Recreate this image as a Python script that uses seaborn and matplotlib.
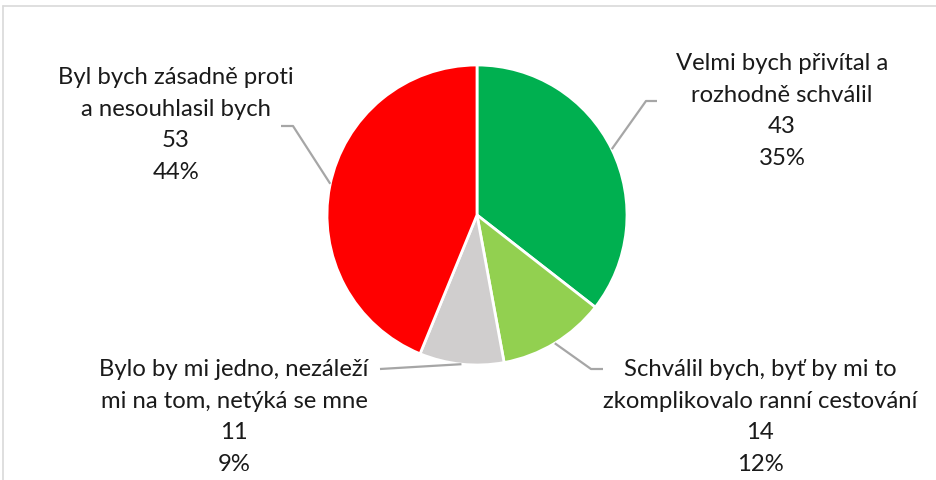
import matplotlib
matplotlib.use("Agg")
import matplotlib.pyplot as plt
import seaborn as sns
import numpy as np
from matplotlib.lines import Line2D

sns.set_theme(style="white")
plt.rcParams['font.family'] = ['Lato', 'DejaVu Sans']

categories = [
    "Velmi bych přivítal a\nrozhodně schválil",
    "Schválil bych, byť by mi to\nzkomplikovalo ranní cestování",
    "Bylo by mi jedno, nezáleží\nmi na tom, netýká se mne",
    "Byl bych zásadně proti\na nesouhlasil bych",
]
values = [43, 14, 11, 53]
percents = ["35%", "12%", "9%", "44%"]
colors = ["#00B050", "#92D050", "#D0CECE", "#FF0000"]

W, H = 936, 481
fig = plt.figure(figsize=(W / 100, H / 100), dpi=100)
ax = fig.add_axes([0, 0, 1, 1])
ax.set_xlim(0, W)
ax.set_ylim(0, H)

cx, cy, r = 477, H - 216, 150
wedges, _ = ax.pie(values, colors=colors, startangle=90, counterclock=False,
                   center=(cx, cy), radius=r,
                   wedgeprops=dict(edgecolor="white", linewidth=2))
ax.set_xlim(0, W)
ax.set_ylim(0, H)
ax.set_aspect('equal')
ax.axis('off')

# label layout: text center (px), leader anchor angle, elbow, end
layout = [
    dict(tx=782, ty=111, ang=None, elbow=(646, 102), end=(657, 102)),
    dict(tx=760, ty=417, ang=None, elbow=(591, 370), end=(603, 370)),
    dict(tx=234, ty=417, ang=None, elbow=None, end=(380, 370)),
    dict(tx=176, ty=125, ang=168, elbow=(293, 127), end=(281, 127)),
]

for w, cat, v, p, lay in zip(wedges, categories, values, percents, layout):
    ang = lay['ang'] if lay['ang'] is not None else (w.theta1 + w.theta2) / 2
    sx = cx + r * np.cos(np.radians(ang))
    sy = cy + r * np.sin(np.radians(ang))
    xs = [sx]
    ys = [sy]
    if lay['elbow'] is not None:
        xs.append(lay['elbow'][0]); ys.append(H - lay['elbow'][1])
    xs.append(lay['end'][0]); ys.append(H - lay['end'][1])
    ax.plot(xs, ys, color="#A6A6A6", lw=1.6, solid_capstyle='butt', zorder=1)
    ax.text(lay['tx'], H - lay['ty'], f"{cat}\n{v}\n{p}", ha='center', va='center',
            fontsize=17.2, color="#1a1a1a", linespacing=1.62)

# chart frame (partially visible)
fig.add_artist(Line2D([3 / W, 3 / W], [0, 1 - 7 / H], transform=fig.transFigure,
                      color="#D9D9D9", lw=1.2))
fig.add_artist(Line2D([3 / W, 1], [1 - 7 / H, 1 - 7 / H], transform=fig.transFigure,
                      color="#D9D9D9", lw=1.2))

fig.savefig("out.png", dpi=100, facecolor="white")
